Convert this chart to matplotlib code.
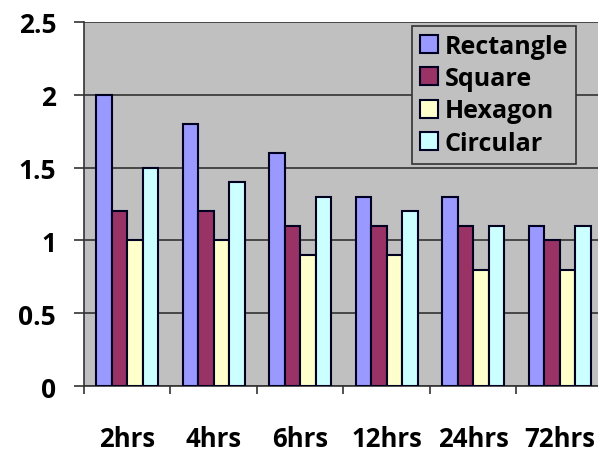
import matplotlib
matplotlib.use('Agg')
import matplotlib.pyplot as plt
import numpy as np

# Данные графика
categories = ['2hrs', '4hrs', '6hrs', '12hrs', '24hrs', '72hrs']
series_names = ['Rectangle', 'Square', 'Hexagon', 'Circular']
rectangle = [2.0, 1.8, 1.6, 1.3, 1.3, 1.1]
square = [1.2, 1.2, 1.1, 1.1, 1.1, 1.0]
hexagon = [1.0, 1.0, 0.9, 0.9, 0.8, 0.8]
circular = [1.5, 1.4, 1.3, 1.2, 1.1, 1.1]
y_ticks = [0, 0.5, 1, 1.5, 2, 2.5]
y_tick_labels = ['0', '0.5', '1', '1.5', '2', '2.5']

colors = ['#9999FF', '#993366', '#FFFFCC', '#CCFFFF']

plt.rcParams['font.family'] = ['Open Sans', 'DejaVu Sans']
plt.rcParams['font.weight'] = 'bold'

fig = plt.figure(figsize=(5.98, 4.52), dpi=100)
fig.patch.set_facecolor('white')
ax = fig.add_axes([84 / 598, 1 - 387 / 452, 519 / 598, 364 / 452])
ax.set_facecolor('#C0C0C0')

x = np.arange(len(categories))
bar_w = 0.18
offsets = (np.arange(4) - 1.5) * bar_w
for vals, name, col, off in zip([rectangle, square, hexagon, circular], series_names, colors, offsets):
    ax.bar(x + off, vals, width=bar_w, color=col, edgecolor='#000020', linewidth=1.5,
           label=name, zorder=3)

ax.set_xlim(-0.5, len(categories) - 0.5)
ax.set_ylim(0, 2.5)
ax.set_yticks(y_ticks)
ax.set_yticklabels(y_tick_labels, fontsize=19, fontweight='bold')
ax.yaxis.grid(True, color='#333333', linewidth=1.2, zorder=0)
ax.set_axisbelow(True)

# Метки по центру категорий, деления на границах
ax.set_xticks(x)
ax.set_xticklabels(categories, fontsize=18.5, fontweight='bold')
ax.tick_params(axis='x', length=0, pad=28)
ax.set_xticks(np.arange(len(categories) + 1) - 0.5, minor=True)
ax.tick_params(axis='x', which='minor', length=6, width=1.2, color='#333333', direction='out')
ax.tick_params(axis='y', length=7, width=1.2, color='#333333', pad=13)

for side in ['top', 'right']:
    ax.spines[side].set_visible(False)
ax.spines['left'].set_color('#333333')
ax.spines['left'].set_linewidth(1.2)
ax.spines['bottom'].set_color('#333333')
ax.spines['bottom'].set_linewidth(1.2)

leg = fig.legend(loc='upper left', bbox_to_anchor=(412 / 598, 1 - 27 / 452),
                 prop={'size': 18, 'weight': 'bold'}, frameon=True, fancybox=False,
                 handlelength=0.75, handleheight=0.75, handletextpad=0.25,
                 labelspacing=0.3, borderpad=0.3, borderaxespad=0)
leg.get_frame().set_facecolor('#C0C0C0')
leg.get_frame().set_edgecolor('#333333')
leg.get_frame().set_linewidth(1.2)
leg.get_frame().set_alpha(1)

plt.savefig('out.png', dpi=100)
plt.close(fig)
